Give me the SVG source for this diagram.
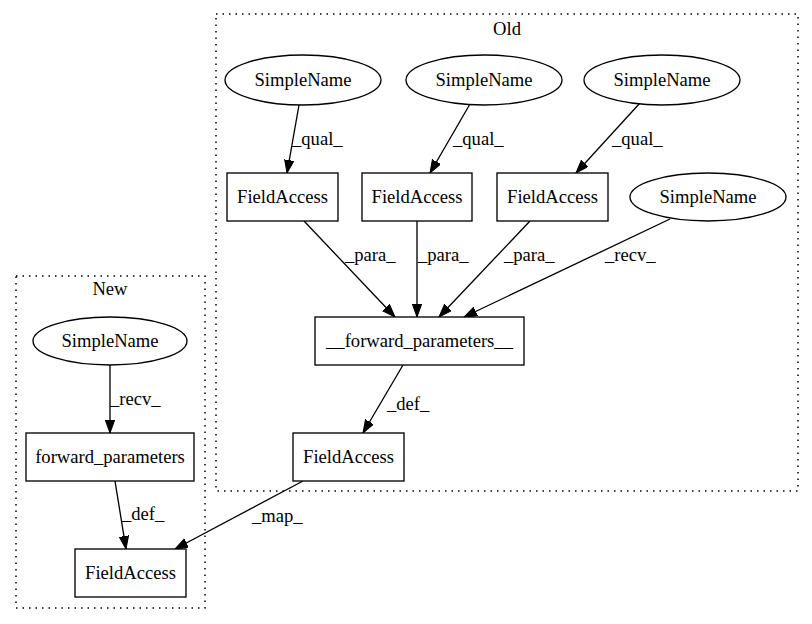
<svg xmlns="http://www.w3.org/2000/svg" width="812" height="624" viewBox="0 0 812 624">
<style>
text{font-family:"Liberation Serif","Times New Roman",serif;font-size:18.6px;fill:#000}
.n{text-anchor:middle}
.box{fill:#fff;stroke:#000;stroke-width:1.33}
.cl{fill:none;stroke:#000;stroke-width:1.5;stroke-dasharray:1.5,5}
.e{fill:none;stroke:#000;stroke-width:1.33;marker-end:url(#ah)}
</style>
<defs>
<marker id="ah" markerUnits="userSpaceOnUse" markerWidth="15" markerHeight="12" refX="13" refY="4.7" orient="auto">
<path d="M0,0 L13,4.7 L0,9.4 Z" fill="#000" stroke="#000"/>
</marker>
</defs>
<rect width="812" height="624" fill="#fff"/>
<g id="cluster_old">
<rect class="cl" x="216" y="14" width="582" height="477"/>
<text class="n" x="507" y="35">Old</text>
</g>
<g id="cluster_new">
<rect class="cl" x="16" y="276" width="189" height="332"/>
<text class="n" x="110" y="295">New</text>
</g>
<g id="connectors">
<path class="e" d="M299,105 L287,173"/>
<text x="292" y="145">_qual_</text>
<path class="e" d="M470,104 L430,173"/>
<text x="453" y="145">_qual_</text>
<path class="e" d="M640,103 L576,173"/>
<text x="612" y="145">_qual_</text>
<path class="e" d="M304,221 L395,317"/>
<text x="345" y="261">_para_</text>
<path class="e" d="M417,221 L417,317"/>
<text x="418" y="261">_para_</text>
<path class="e" d="M530,221 L439,317"/>
<text x="504" y="261">_para_</text>
<path class="e" d="M670,219 L464,317"/>
<text x="605" y="261">_recv_</text>
<path class="e" d="M403,365 L363,433"/>
<text x="387" y="410">_def_</text>
<path class="e" d="M110,365 L110,433"/>
<text x="110" y="405">_recv_</text>
<path class="e" d="M115,481 L126,549"/>
<text x="122" y="520">_def_</text>
<path class="e" d="M303,481 L175,549"/>
<text x="252" y="522">_map_</text>
</g>
<g id="sn1"><ellipse class="box" cx="303" cy="80" rx="78" ry="25"/><text class="n" x="303" y="86">SimpleName</text></g>
<g id="sn2"><ellipse class="box" cx="484" cy="80" rx="78" ry="25"/><text class="n" x="484" y="86">SimpleName</text></g>
<g id="sn3"><ellipse class="box" cx="662" cy="80" rx="78" ry="25"/><text class="n" x="662" y="86">SimpleName</text></g>
<g id="fa1"><rect class="box" x="227" y="173" width="111" height="48"/><text class="n" x="282.5" y="203">FieldAccess</text></g>
<g id="fa2"><rect class="box" x="362" y="173" width="110" height="48"/><text class="n" x="417" y="203">FieldAccess</text></g>
<g id="fa3"><rect class="box" x="497" y="173" width="111" height="48"/><text class="n" x="552.5" y="203">FieldAccess</text></g>
<g id="sn4"><ellipse class="box" cx="708" cy="197" rx="78" ry="24"/><text class="n" x="708" y="203">SimpleName</text></g>
<g id="fwd_old"><rect class="box" x="315" y="317" width="209" height="48"/><text class="n" x="419.5" y="347">__forward_parameters__</text></g>
<g id="fa_old"><rect class="box" x="293" y="433" width="111" height="48"/><text class="n" x="348.5" y="463">FieldAccess</text></g>
<g id="sn_new"><ellipse class="box" cx="110" cy="341" rx="77" ry="24"/><text class="n" x="110" y="347">SimpleName</text></g>
<g id="fwd_new"><rect class="box" x="26" y="433" width="168" height="48"/><text class="n" x="110" y="463">forward_parameters</text></g>
<g id="fa_new"><rect class="box" x="75" y="549" width="111" height="48"/><text class="n" x="130.5" y="579">FieldAccess</text></g>
</svg>
